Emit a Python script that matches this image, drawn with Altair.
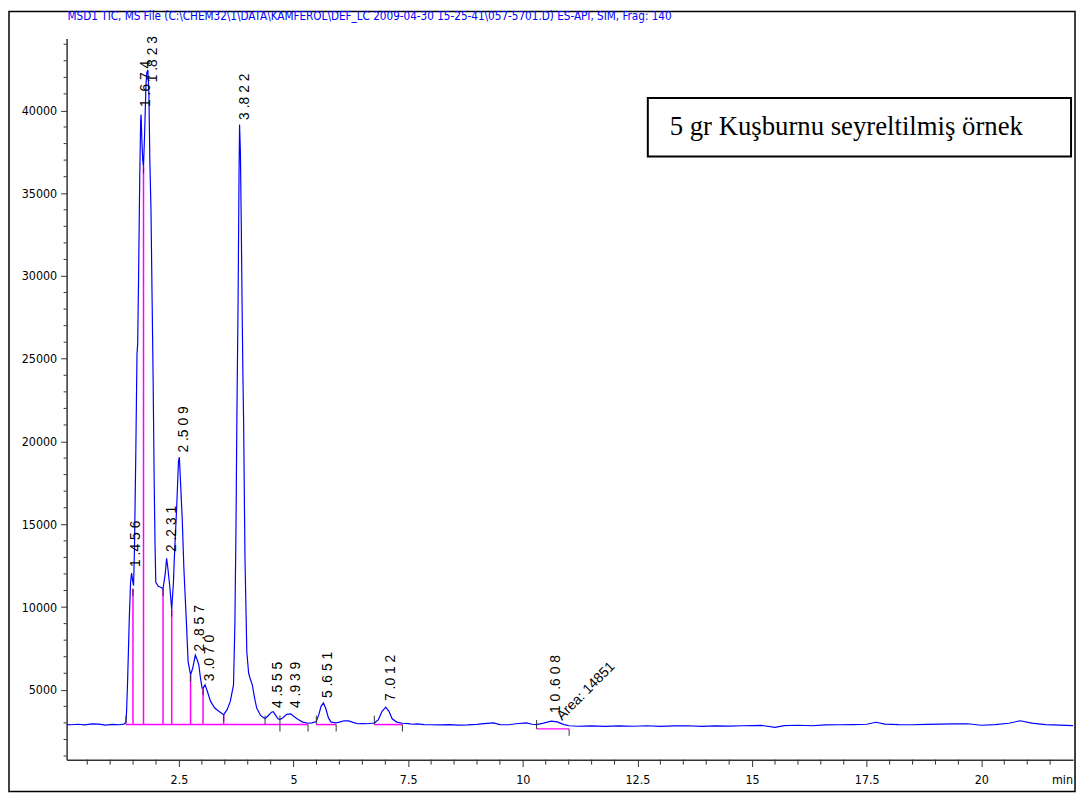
import altair as alt
import pandas as pd

# ---------------- data ----------------
time_min = [0.05, 0.15, 0.3, 0.45, 0.6, 0.75, 0.9, 1.05, 1.2, 1.3, 1.345, 1.358, 1.38, 1.417, 1.445,
            1.467, 1.49, 1.51, 1.53, 1.56, 1.585, 1.60, 1.62, 1.645, 1.665, 1.674, 1.69, 1.71, 1.727,
            1.75, 1.78, 1.80, 1.823, 1.845, 1.865, 1.89, 1.915, 1.937, 1.96, 1.98, 1.995, 2.05, 2.10,
            2.153, 2.20, 2.231, 2.26, 2.298, 2.342, 2.38, 2.40, 2.45, 2.49, 2.509, 2.535, 2.572, 2.608,
            2.659, 2.70, 2.753, 2.80, 2.857, 2.90, 2.933, 2.97, 3.005, 3.026, 3.07, 3.12, 3.19, 3.28,
            3.37, 3.475, 3.55, 3.62, 3.69, 3.72, 3.745, 3.763, 3.79, 3.81, 3.822, 3.84, 3.86, 3.876,
            3.895, 3.91, 3.94, 3.98, 4.02, 4.05, 4.10, 4.15, 4.196, 4.28, 4.378, 4.45, 4.52, 4.555,
            4.60, 4.66, 4.703, 4.76, 4.85, 4.939, 5.00, 5.10, 5.20, 5.316, 5.40, 5.496, 5.55, 5.60,
            5.651, 5.70, 5.76, 5.82, 5.929, 6.0, 6.1, 6.2, 6.3, 6.4, 6.5, 6.6, 6.7, 6.761, 6.85, 6.93,
            7.012, 7.08, 7.15, 7.25, 7.374, 7.5, 7.6, 7.7, 7.85, 8.0, 8.2, 8.4, 8.6, 8.8, 9.0, 9.15,
            9.36, 9.5, 9.7, 9.85, 10.08, 10.2, 10.30, 10.45, 10.62, 10.75, 10.9, 11.01, 11.2, 11.5,
            11.8, 12.1, 12.4, 12.7, 13.0, 13.3, 13.6, 13.9, 14.2, 14.5, 14.8, 15.2, 15.5, 15.7, 16.0,
            16.3, 16.6, 16.9, 17.2, 17.5, 17.7, 17.9, 18.2, 18.5, 18.8, 19.1, 19.4, 19.7, 20.0, 20.3,
            20.6, 20.85, 21.1, 21.4, 21.7, 22.0]
tic_abundance = [2900, 2890, 2920, 2880, 2940, 2930, 2870, 2910, 2890, 2930, 3050, 3700, 5500, 9300, 11500,
                 12050, 11600, 11300, 13500, 19500, 25300, 25900, 30000, 36000, 39400, 39750, 38300, 37000, 36600,
                 38500, 41500, 42300, 42450, 41000, 37000, 34000, 28500, 23700, 17500, 13500, 11500, 11250, 11200,
                 11100, 12000, 12950, 12300, 11300, 9850, 11500, 13000, 16000, 18800, 19050, 17500, 15300, 12300,
                 9300, 6700, 5900, 6300, 7100, 6800, 6500, 5700, 5100, 5100, 5300, 4900, 4300, 3900,
                 3700, 3500, 3800, 4300, 5300, 9000, 15000, 21300, 28500, 36000, 39150, 37500, 33000, 28500,
                 24000, 21300, 13000, 7300, 6000, 5700, 5300, 4500, 3900, 3450, 3250, 3450, 3650, 3680,
                 3500, 3250, 3200, 3300, 3520, 3550, 3400, 3200, 3050, 2980, 3000, 3080, 3500, 4000,
                 4200, 3900, 3300, 3050, 3000, 3050, 3130, 3120, 3030, 2950, 2960, 2950, 2980, 2990, 3200, 3700,
                 3950, 3700, 3250, 3050, 2980, 2960, 2920, 2940, 2900, 2890, 2880, 2900, 2870, 2880, 2910, 2960,
                 3000, 2900, 2890, 2950, 3000, 2920, 2900, 2990, 3110, 3060, 2900, 2830, 2800, 2820,
                 2790, 2820, 2800, 2830, 2790, 2820, 2830, 2790, 2820, 2810, 2830, 2850, 2730, 2840, 2860,
                 2830, 2880, 2890, 2900, 2920, 3040, 2930, 2900, 2890, 2910, 2930, 2940, 2950, 2860, 2900,
                 2980, 3130, 2990, 2900, 2870, 2840]

peak_rt = [1.456, 1.674, 1.823, 2.231, 2.509, 2.857, 3.070, 3.822, 4.555, 4.939, 5.651, 7.012, 10.608]
peak_text = ["1 .4 5 6", "1 .6 7 4", "1 .8 2 3", "2 .2 3 1", "2 .5 0 9", "2 .8 5 7", "3 .0 7 0",
             "3 .8 2 2", "4 .5 5 5", "4 .9 3 9", "5 .6 5 1", "7 .0 1 2", "1 0 .6 0 8"]
peak_text_level = [12420, 40210, 41700, 13320, 19330, 7320, 5520, 39430, 3900, 3900, 4500, 4320, 3600]

drop_rt = [1.497, 1.727, 2.153, 2.342, 2.753, 3.026, 3.475]
drop_top = [11100, 36600, 11100, 9850, 5900, 5100, 3500]
drop_base = [2900, 2900, 2900, 2900, 2900, 2900, 2900]

seg_start = [1.345, 5.496, 6.761, 10.30]
seg_end = [5.316, 5.929, 7.374, 11.01]
seg_level = [2900, 2900, 2900, 2640]

mark_up_rt = [1.345, 4.378, 4.703, 5.496, 6.761, 10.30]
mark_up_level = [2900, 2900, 2900, 2900, 2900, 2640]
mark_down_rt = [4.703, 5.316, 5.929, 7.374, 11.01]
mark_down_level = [2900, 2900, 2900, 2900, 2640]

area_text = ["Area: 14851"]
area_rt = [10.608]
area_level = [3120]

y_major = [5000, 10000, 15000, 20000, 25000, 30000, 35000, 40000]
y_minor = [1000, 2000, 3000, 4000, 6000, 7000, 8000, 9000, 11000, 12000, 13000, 14000, 16000, 17000,
           18000, 19000, 21000, 22000, 23000, 24000, 26000, 27000, 28000, 29000, 31000, 32000, 33000,
           34000, 36000, 37000, 38000, 39000, 41000, 42000, 43000, 44000]
x_major = [2.5, 5, 7.5, 10, 12.5, 15, 17.5, 20]
x_minor = [0.5, 1, 1.5, 2, 3, 3.5, 4, 4.5, 5.5, 6, 6.5, 7, 8, 8.5, 9, 9.5, 10.5, 11, 11.5, 12, 13, 13.5,
           14, 14.5, 15.5, 16, 16.5, 17, 18, 18.5, 19, 19.5, 20.5, 21, 21.5]

title_text = "MSD1 TIC, MS File (C:\\CHEM32\\1\\DATA\\KAMFEROL\\DEF_LC 2009-04-30 15-25-41\\057-5701.D)  ES-API, SIM, Frag: 140"
legend_text = "5 gr Kuşburnu seyreltilmiş örnek"
x_unit = "min"

# ---------------- styling ----------------
W, H = 1013, 726
NARROW = "Liberation Sans Narrow, Arial Narrow, DejaVu Sans Condensed, sans-serif"
SANS = "Liberation Sans, Arial, sans-serif"
SERIF = "Liberation Serif, Times New Roman, serif"
BLUE = "#0000ff"
PINK = "#ff00ff"

XSCALE = alt.Scale(domain=[0.05, 22.0], nice=False, zero=False)
YSCALE = alt.Scale(domain=[780, 44355], nice=False, zero=False)
XAXIS = alt.Axis(values=x_major, labelExpr="'' + datum.value", grid=False, title=None, tickSize=7,
                 labelPadding=7, labelFont=NARROW, labelFontSize=12.5, labelColor="black",
                 domainColor="#333", tickColor="#333", domainWidth=1.5, labelBaseline="top",
                 labelFlush=False)
YAXIS = alt.Axis(values=y_major, format="d", grid=False, title=None, tickSize=6, labelPadding=4,
                 labelFont=NARROW, labelFontSize=12.5, labelColor="black", domainColor="#333",
                 tickColor="#333", domainWidth=1.5)


def X(f):
    return alt.X(f, type="quantitative", scale=XSCALE, axis=XAXIS)


def Y(f):
    return alt.Y(f, type="quantitative", scale=YSCALE, axis=YAXIS)


trace_df = pd.DataFrame({"t": time_min, "v": tic_abundance})
peaks_df = pd.DataFrame({"t": peak_rt, "v": peak_text_level, "label": peak_text})
drop_df = pd.DataFrame({"t": drop_rt, "v": drop_base, "v2": drop_top})
seg_df = pd.DataFrame({"t": seg_start, "t2": seg_end, "v": seg_level})
up_df = pd.DataFrame({"t": mark_up_rt, "v": mark_up_level})
down_df = pd.DataFrame({"t": mark_down_rt, "v": mark_down_level})
area_df = pd.DataFrame({"t": area_rt, "v": area_level, "label": area_text})
ymin_df = pd.DataFrame({"v": y_minor})
xmin_df = pd.DataFrame({"t": x_minor})
one = pd.DataFrame({"label": [title_text]})
leg = pd.DataFrame({"label": [legend_text]})
unit = pd.DataFrame({"label": [x_unit]})

trace = alt.Chart(trace_df).mark_line(color=BLUE, strokeWidth=1.2, clip=True).encode(
    x=X("t"), y=Y("v"), order=alt.Order("t:Q"))

drops = alt.Chart(drop_df).mark_rule(color=PINK, strokeWidth=1.5).encode(
    x=X("t"), y=Y("v"), y2=alt.Y2("v2"))
drop_marks = alt.Chart(drop_df).mark_rule(color="#552255", strokeWidth=1.2, y2Offset=7).encode(
    x=X("t"), y=Y("v2"), y2=alt.Y2("v2"))
segs = alt.Chart(seg_df).mark_rule(color=PINK, strokeWidth=1.5).encode(
    x=X("t"), x2=alt.X2("t2"), y=Y("v"))
ups = alt.Chart(up_df).mark_rule(color="#333", strokeWidth=1, y2Offset=-9).encode(
    x=X("t"), y=Y("v"), y2=alt.Y2("v"))
downs = alt.Chart(down_df).mark_rule(color="#333", strokeWidth=1, y2Offset=7).encode(
    x=X("t"), y=Y("v"), y2=alt.Y2("v"))

labels = alt.Chart(peaks_df).mark_text(angle=270, align="left", baseline="middle", dy=5,
                                       font=SANS, fontSize=14, color="black").encode(
    x=X("t"), y=Y("v"), text="label:N")
area_lab = alt.Chart(area_df).mark_text(angle=315, align="left", baseline="alphabetic", dx=8, dy=8,
                                        font=SANS, fontSize=14, color="black").encode(
    x=X("t"), y=Y("v"), text="label:N")

yminor = alt.Chart(ymin_df).mark_rule(color="#333", strokeWidth=1).encode(
    y=Y("v"), x=alt.value(-3), x2=alt.value(0))
xminor = alt.Chart(xmin_df).mark_rule(color="#333", strokeWidth=1).encode(
    x=X("t"), y=alt.value(H), y2=alt.value(H + 5))

title = alt.Chart(one).mark_text(align="left", baseline="middle", font=NARROW, fontSize=11.7,
                                 color=BLUE).encode(x=alt.value(1), y=alt.value(-22), text="label:N")
legend_box = alt.Chart(leg).mark_rect(fill="white", stroke="black", strokeWidth=2).encode(
    x=alt.value(585), x2=alt.value(1011), y=alt.value(60), y2=alt.value(119))
legend_txt = alt.Chart(leg).mark_text(align="left", baseline="alphabetic", font=SERIF, fontSize=26.9,
                                      color="black").encode(x=alt.value(607), y=alt.value(97), text="label:N")
unit_txt = alt.Chart(unit).mark_text(align="right", baseline="alphabetic", font=NARROW, fontSize=12.5,
                                     color="black").encode(x=alt.value(W), y=alt.value(H + 25), text="label:N")
frame = alt.Chart(one).mark_rect(fill=None, stroke="black", strokeWidth=1.5).encode(
    x=alt.value(-58), x2=alt.value(W + 2), y=alt.value(-27), y2=alt.value(H + 32))

chart = alt.layer(
    frame, trace, segs, drops, drop_marks, ups, downs, labels, area_lab, yminor, xminor,
    title, legend_box, legend_txt, unit_txt
).properties(
    width=W, height=H,
    padding={"left": 59, "top": 28, "right": 4, "bottom": 34},
    autosize=alt.AutoSizeParams(type="none"),
    background="white",
).configure_view(stroke=None)

chart.save("out.html", embed_options={"renderer": "svg", "actions": False})
